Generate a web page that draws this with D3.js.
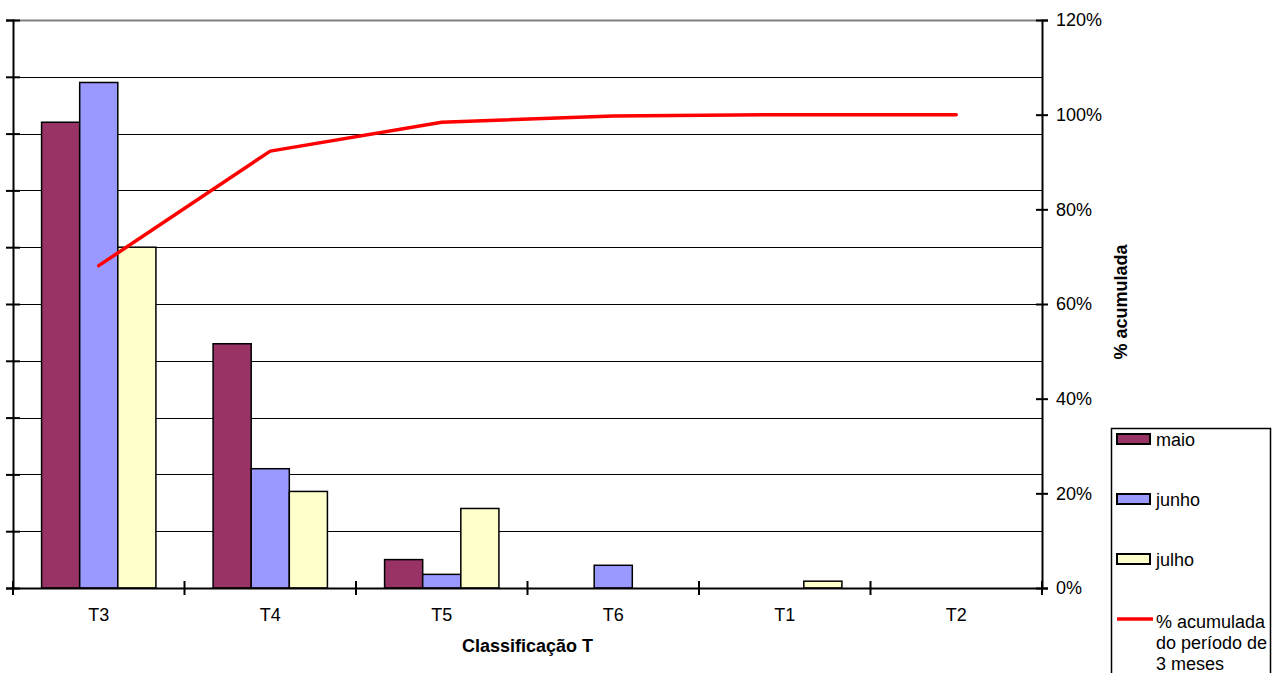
<!DOCTYPE html>
<html>
<head>
<meta charset="utf-8">
<script src="https://cdn.jsdelivr.net/npm/d3@7"></script>
<style>
  html, body { margin: 0; padding: 0; background: #fff; }
  svg { display: block; font-family: "Liberation Sans", Arial, sans-serif; }
</style>
</head>
<body>
<svg id="chart" width="1280" height="673"></svg>
<script>
// Categories of the T classification, in Pareto order
const categories = ["T3", "T4", "T5", "T6", "T1", "T2"];
// Monthly counts per category
const series = ["maio", "junho", "julho"];
const maio  = [82, 43, 5, 0, 0, 0];
const junho = [89, 21, 2.4, 4, 0, 0];
const julho = [60, 17, 14, 0, 1.2, 0];
// Cumulative share over the three months
const cumulative = [0.681, 0.923, 0.984, 0.997, 1.0, 1.0];
// Axis ticks
const leftTicks = [0, 10, 20, 30, 40, 50, 60, 70, 80, 90, 100];
const rightTicks = [0, 0.2, 0.4, 0.6, 0.8, 1.0, 1.2];

const colors = { maio: "#993366", junho: "#9999FF", julho: "#FFFFCC" };
const lineColor = "#FF0000";
const valuesBySeries = { maio, junho, julho };

const svg = d3.select("#chart");
const plot = { left: 13, right: 1042, top: 20, bottom: 588 };

const x = d3.scaleBand().domain(categories).range([plot.left, plot.right]).padding(0);
const xs = d3.scaleBand().domain(series).range([0, x.bandwidth()]).paddingInner(0).paddingOuter(0.75);
const yL = d3.scaleLinear().domain([0, 100]).range([plot.bottom, plot.top]);
const yR = d3.scaleLinear().domain([0, 1.2]).range([plot.bottom, plot.top]);

// Horizontal gridlines
svg.append("g").selectAll("line")
  .data(leftTicks.filter(t => t > 0))
  .join("line")
  .attr("x1", plot.left).attr("x2", plot.right)
  .attr("y1", d => Math.round(yL(d)) + 0.5).attr("y2", d => Math.round(yL(d)) + 0.5)
  .attr("stroke", d => d === 100 ? "#808080" : "#000")
  .attr("stroke-width", d => d === 100 ? 2 : 1);

// Bars
const rows = categories.map((c, i) => ({ c, vals: series.map(s => ({ s, v: valuesBySeries[s][i] })) }));
svg.append("g").selectAll("g")
  .data(rows)
  .join("g")
  .attr("transform", d => `translate(${x(d.c)},0)`)
  .selectAll("rect")
  .data(d => d.vals.filter(e => e.v > 0))
  .join("rect")
  .attr("x", d => xs(d.s))
  .attr("y", d => yL(d.v))
  .attr("width", xs.bandwidth())
  .attr("height", d => yL(0) - yL(d.v))
  .attr("fill", d => colors[d.s])
  .attr("stroke", "#000")
  .attr("stroke-width", 1.5);

// Left axis: tick marks only, crossing the axis line
const gL = svg.append("g")
  .attr("transform", `translate(${plot.left},0)`)
  .call(d3.axisLeft(yL).tickValues(leftTicks).tickFormat("").tickSizeOuter(0).tickSize(7));
gL.select(".domain").attr("stroke", "#000").attr("stroke-width", 2);
gL.selectAll(".tick line").attr("x1", -7).attr("x2", 7).attr("stroke", "#000").attr("stroke-width", 2);

// Right axis (percent)
const gR = svg.append("g")
  .attr("transform", `translate(${plot.right},0)`)
  .call(d3.axisRight(yR).tickValues(rightTicks).tickFormat(d3.format(".0%")).tickSizeOuter(0).tickSize(6).tickPadding(8));
gR.select(".domain").attr("stroke", "#000").attr("stroke-width", 2);
gR.selectAll(".tick line").attr("x1", -6).attr("x2", 6).attr("stroke", "#000").attr("stroke-width", 2);
gR.selectAll(".tick text").attr("font-size", 18).attr("fill", "#000").attr("font-family", "Liberation Sans, Arial, sans-serif");

// Bottom axis
const gB = svg.append("g")
  .attr("transform", `translate(0,${plot.bottom})`)
  .call(d3.axisBottom(x).tickSizeOuter(0).tickSize(0).tickPadding(20));
gB.select(".domain").attr("stroke", "#000").attr("stroke-width", 2);
gB.selectAll(".tick text").attr("font-size", 18).attr("fill", "#000").attr("font-family", "Liberation Sans, Arial, sans-serif");
// Category separators crossing the axis
const bounds = [plot.left].concat(categories.map(c => x(c) + x.bandwidth()));
gB.append("g").selectAll("line").data(bounds).join("line")
  .attr("x1", d => d).attr("x2", d => d)
  .attr("y1", -7).attr("y2", 7)
  .attr("stroke", "#000").attr("stroke-width", 2);

// Cumulative line
const line = d3.line()
  .x((d, i) => x(categories[i]) + x.bandwidth() / 2)
  .y(d => yR(d));
svg.append("path")
  .datum(cumulative)
  .attr("d", line)
  .attr("fill", "none")
  .attr("stroke", lineColor)
  .attr("stroke-width", 3.5)
  .attr("stroke-linecap", "round")
  .attr("stroke-linejoin", "round");

// Axis titles
svg.append("text")
  .attr("x", (plot.left + plot.right) / 2).attr("y", 652)
  .attr("text-anchor", "middle")
  .attr("font-size", 18).attr("font-weight", "bold")
  .text("Classificação T");

svg.append("text")
  .attr("transform", "translate(1127,302) rotate(-90)")
  .attr("text-anchor", "middle")
  .attr("font-size", 18).attr("font-weight", "bold")
  .text("% acumulada");

// Legend
const lg = svg.append("g");
lg.append("rect")
  .attr("x", 1111.5).attr("y", 428.5).attr("width", 159).attr("height", 260)
  .attr("fill", "#fff").attr("stroke", "#000").attr("stroke-width", 1.5);
series.forEach((s, i) => {
  const cy = 439 + i * 60;
  lg.append("rect")
    .attr("x", 1117).attr("y", cy - 5).attr("width", 33).attr("height", 10)
    .attr("fill", colors[s]).attr("stroke", "#000").attr("stroke-width", 2);
  lg.append("text")
    .attr("x", 1156).attr("y", cy + 7)
    .attr("font-size", 18)
    .text(s);
});
lg.append("line")
  .attr("x1", 1117).attr("x2", 1153).attr("y1", 619).attr("y2", 619)
  .attr("stroke", lineColor).attr("stroke-width", 3.5);
const lt = lg.append("text").attr("x", 1156).attr("y", 628).attr("font-size", 18);
["% acumulada", "do período de", "3 meses"].forEach((t, i) => {
  lt.append("tspan").attr("x", 1156).attr("dy", i === 0 ? 0 : 21).text(t);
});
</script>
</body>
</html>
